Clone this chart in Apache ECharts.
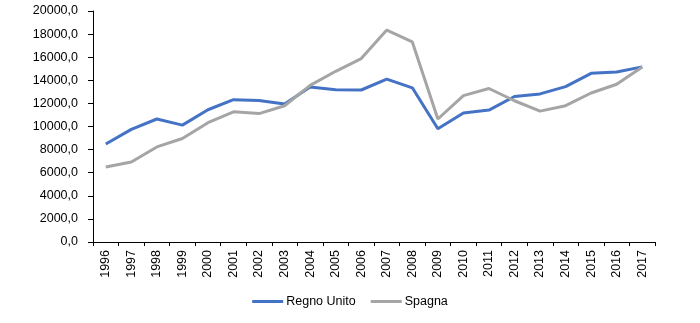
<!DOCTYPE html>
<html>
<head>
<meta charset="utf-8">
<script src="https://cdn.jsdelivr.net/npm/echarts@6/dist/echarts.min.js"></script>
<style>html,body{margin:0;padding:0;background:#fff;}#c{width:700px;height:323px;}</style>
</head>
<body>
<div id="c"></div>
<script>
var years = ['1996','1997','1998','1999','2000','2001','2002','2003','2004','2005','2006','2007','2008','2009','2010','2011','2012','2013','2014','2015','2016','2017'];
var regnoUnito = [8480,9750,10650,10120,11450,12320,12260,11950,13420,13180,13160,14100,13350,9800,11170,11420,12600,12820,13450,14600,14720,15160];
var spagna = [6500,6920,8230,8960,10330,11270,11120,11800,13560,14780,15880,18350,17320,10650,12670,13290,12230,11330,11800,12900,13660,15160];

var chart = echarts.init(document.getElementById('c'));
var font = 'Liberation Sans, Arial, sans-serif';
chart.setOption({
  animation: false,
  grid: {left: 93, right: 45, top: 11, bottom: 81},
  legend: {
    bottom: 10, left: 'center',
    itemWidth: 31, itemHeight: 3, itemGap: 15,
    icon: 'rect',
    textStyle: {fontFamily: font, fontSize: 12.5, color: '#000', padding: [0,0,0,-2]},
    data: ['Regno Unito', 'Spagna']
  },
  xAxis: {
    type: 'category', data: years, boundaryGap: true,
    axisLine: {lineStyle: {color: '#000', width: 1}},
    axisTick: {show: true, length: 4, alignWithLabel: false, lineStyle: {color: '#000'}},
    axisLabel: {rotate: 90, fontFamily: font, fontSize: 12.5, color: '#000', margin: 8, interval: 0}
  },
  yAxis: {
    type: 'value', min: 0, max: 20000, interval: 2000,
    axisLine: {show: true, lineStyle: {color: '#000', width: 1}},
    axisTick: {show: true, length: 5, lineStyle: {color: '#000'}},
    splitLine: {show: false},
    axisLabel: {fontFamily: font, fontSize: 12.5, color: '#000', margin: 15,
      formatter: function(v){ return v.toFixed(1).replace('.', ','); }}
  },
  series: [
    {name: 'Regno Unito', type: 'line', data: regnoUnito, showSymbol: false, symbol: 'none',
     lineStyle: {color: '#4472C4', width: 3}, itemStyle: {color: '#4472C4'}},
    {name: 'Spagna', type: 'line', data: spagna, showSymbol: false, symbol: 'none',
     lineStyle: {color: '#A5A5A5', width: 3}, itemStyle: {color: '#A5A5A5'}}
  ]
});
</script>
</body>
</html>
